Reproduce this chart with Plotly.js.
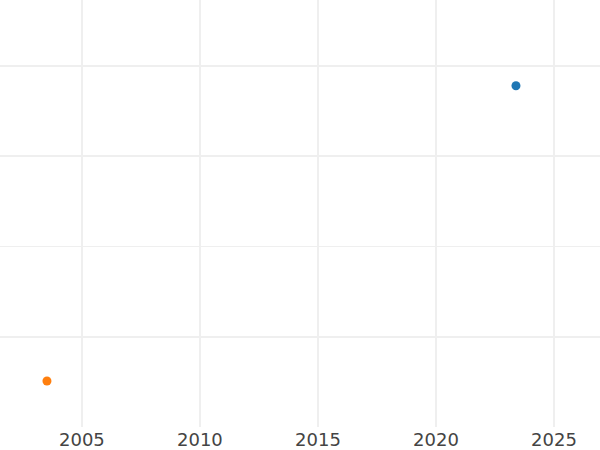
<!DOCTYPE html>
<html><head><meta charset="utf-8">
<script src="https://cdn.plot.ly/plotly-3.0.1.min.js"></script>
<style>html,body{margin:0;padding:0;background:#fff}</style>
</head><body>
<div id="chart" style="width:600px;height:450px"></div>
<script>
const seriesA_x = [2023.39];
const seriesA_y = [3.78];
const seriesB_x = [2003.52];
const seriesB_y = [0.51];
const xTicks = [2005, 2010, 2015, 2020, 2025];

const traces = [
  {x: seriesA_x, y: seriesA_y, mode: 'markers', type: 'scatter', marker: {color: '#1f77b4', size: 9}, showlegend: false},
  {x: seriesB_x, y: seriesB_y, mode: 'markers', type: 'scatter', marker: {color: '#ff7f0e', size: 9}, showlegend: false}
];
const layout = {
  width: 600, height: 450,
  margin: {l: 0, r: 0, t: 0, b: 23},
  paper_bgcolor: '#fff', plot_bgcolor: '#fff',
  showlegend: false,
  xaxis: {range: [2001.53, 2026.95], tickvals: xTicks, ticktext: xTicks.map(String), gridcolor: '#efefef', gridwidth: 1.6, zeroline: false, showline: false, ticks: '',
          tickfont: {family: 'DejaVu Sans', size: 18, color: '#444'}},
  yaxis: {range: [0, 4.73], dtick: 1, tick0: 0, showticklabels: false, gridcolor: '#efefef', gridwidth: 1.6, zeroline: false, showline: false, ticks: ''}
};
Plotly.newPlot('chart', traces, layout, {displayModeBar: false, staticPlot: true});
</script>
</body></html>
